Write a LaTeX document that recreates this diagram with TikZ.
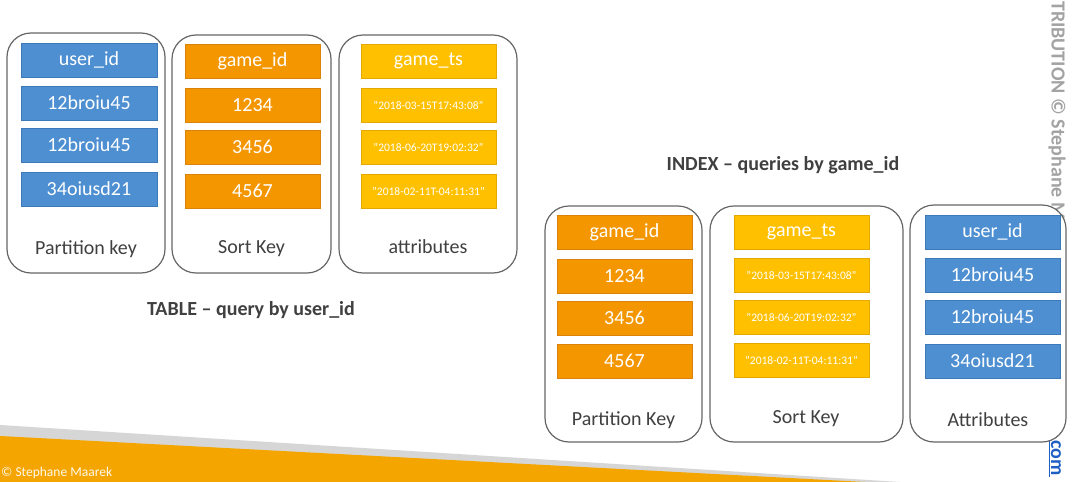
\documentclass[tikz,border=0pt]{standalone}
\usepackage{fontspec}
\setmainfont{Carlito}
\begin{document}
\begin{tikzpicture}[x=1pt,y=-1pt,
  container/.style={draw=black!60, line width=1.2pt, rounded corners=24pt, fill=white, inner sep=0pt},
  cell/.style={inner sep=0pt, minimum width=135pt, minimum height=34pt, text=white,
               font=\fontsize{20}{24}\selectfont, line width=0.8pt},
  bluecell/.style={cell, fill=cblue, draw=cblueedge},
  orangecell/.style={cell, fill=corange, draw=corangeedge},
  yellowcell/.style={cell, fill=cyellow, draw=cyellowedge},
  tscell/.style={yellowcell, font=\fontsize{11.5}{14}\selectfont},
  caption/.style={text=cgrey, font=\fontsize{20}{24}\selectfont, inner sep=0pt},
  heading/.style={text=cgrey, font=\bfseries\fontsize{20}{24}\selectfont, inner sep=0pt}]
\definecolor{cblue}{HTML}{4D8FD1}
\definecolor{cblueedge}{HTML}{3D78B8}
\definecolor{corange}{HTML}{F39600}
\definecolor{corangeedge}{HTML}{D9830A}
\definecolor{cyellow}{HTML}{FFC000}
\definecolor{cyellowedge}{HTML}{E3A900}
\definecolor{cgrey}{HTML}{404040}
\definecolor{band}{HTML}{F5A500}
\definecolor{stripe}{HTML}{D6D6D6}
\definecolor{mark}{HTML}{A3A3A3}
\definecolor{link}{HTML}{1F5FC4}

\useasboundingbox[fill=white] (0,0) rectangle (1072,482);

% footer band
\fill[stripe] (0,425) -- (900,482) -- (0,482) -- cycle;
\fill[band] (0,436) -- (865,482) -- (0,482) -- cycle;
\node[anchor=west, inner sep=0pt, text=white!92!band, font=\fontsize{13.5}{16}\selectfont] (copy) at (1,473) {© Stephane Maarek};

% vertical watermark on the right edge
\node[rotate=-90, anchor=west, inner sep=0pt, text=mark, font=\bfseries\fontsize{20}{24}\selectfont] (wm) at (1057,1) {TRIBUTION © Stephane M};
\node[rotate=-90, anchor=west, inner sep=1pt, text=link, font=\bfseries\fontsize{20}{24}\selectfont] (com) at (1056,439) {com};
\draw[link, line width=1pt] (com.south west) -- (com.south east);

% ---------- TABLE ----------
\node[container, minimum width=158pt, minimum height=240pt] (t1) at (86,153) {};
\node[container, minimum width=159pt, minimum height=238pt] (t2) at (251.5,154) {};
\node[container, minimum width=178pt, minimum height=238pt] (t3) at (428,154) {};

\node[bluecell, minimum width=136pt] (t1h) at (89,60) {user\_id};
\node[bluecell, minimum width=136pt] (t1a) at (89,103) {12broiu45};
\node[bluecell, minimum width=136pt] (t1b) at (89,145) {12broiu45};
\node[bluecell, minimum width=136pt] (t1c) at (89,189) {34oiusd21};

\node[orangecell] (t2h) at (252.5,61) {game\_id};
\node[orangecell] (t2a) at (252.5,105) {1234};
\node[orangecell] (t2b) at (252.5,147) {3456};
\node[orangecell] (t2c) at (252.5,191) {4567};

\node[yellowcell] (t3h) at (428.5,61) {game\_ts};
\node[tscell] (t3a) at (428.5,105) {"2018-03-15T17:43:08"};
\node[tscell] (t3b) at (428.5,147) {"2018-06-20T19:02:32"};
\node[tscell] (t3c) at (428.5,191) {"2018-02-11T-04:11:31"};

\node[caption] (t1l) at (86,249) {Partition key};
\node[caption] (t2l) at (251.5,249) {Sort Key};
\node[caption] (t3l) at (428,247) {attributes};

\node[heading] (tabletitle) at (251,310) {TABLE – query by user\_id};

% ---------- INDEX ----------
\node[heading] (indextitle) at (783,165) {INDEX – queries by game\_id};

\node[container, minimum width=157pt, minimum height=236pt] (i1) at (623.5,324) {};
\node[container, minimum width=193pt, minimum height=236pt] (i2) at (806.5,324) {};
\node[container, minimum width=156pt, minimum height=237pt] (i3) at (988,323.5) {};

\node[orangecell] (i1h) at (624.5,232) {game\_id};
\node[orangecell] (i1a) at (624.5,276) {1234};
\node[orangecell] (i1b) at (624.5,318) {3456};
\node[orangecell] (i1c) at (624.5,361) {4567};

\node[yellowcell] (i2h) at (801.5,232) {game\_ts};
\node[tscell] (i2a) at (801.5,275.5) {"2018-03-15T17:43:08"};
\node[tscell] (i2b) at (801.5,317.5) {"2018-06-20T19:02:32"};
\node[tscell] (i2c) at (801.5,360.5) {"2018-02-11T-04:11:31"};

\node[bluecell] (i3h) at (992.5,232) {user\_id};
\node[bluecell] (i3a) at (992.5,275) {12broiu45};
\node[bluecell] (i3b) at (992.5,317) {12broiu45};
\node[bluecell] (i3c) at (992.5,361) {34oiusd21};

\node[caption] (i1l) at (623.5,420) {Partition Key};
\node[caption] (i2l) at (806,419) {Sort Key};
\node[caption] (i3l) at (988,420) {Attributes};
\end{tikzpicture}
\end{document}
